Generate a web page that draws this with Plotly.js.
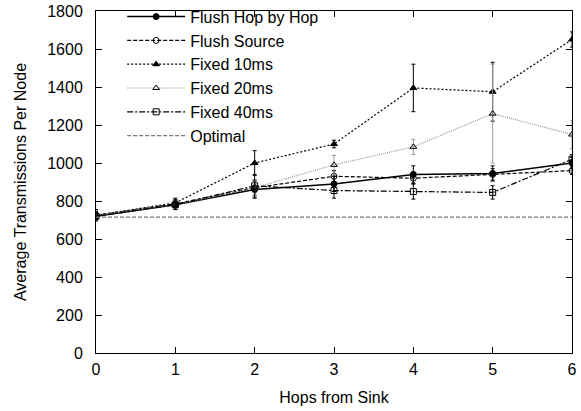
<!DOCTYPE html>
<html><head><meta charset="utf-8">
<script src="https://cdn.plot.ly/plotly-3.0.1.min.js"></script>
<style>body{margin:0;background:#fff}#c{width:581px;height:411px}</style>
</head><body><div id="c"></div>
<script>
const hops = [0, 1, 2, 3, 4, 5, 6];
const flushHop = [720, 780, 860, 890, 940, 945, 1000];
const flushHopErr = [20, 25, 45, 40, 45, 40, 30];
const flushSource = [725, 785, 870, 930, 920, 940, 960];
const flushSourceErr = [20, 20, 40, 30, 30, 30, 20];
const fixed10 = [725, 790, 1000, 1100, 1395, 1375, 1650];
const fixed10Err = [30, 25, 65, 20, 125, 155, 40];
const fixed20 = [725, 780, 870, 990, 1085, 1260, 1150];
const fixed20Err = [25, 20, 40, 50, 40, 260, 75];
const fixed40 = [720, 780, 880, 855, 850, 845, 1020];
const fixed40Err = [20, 25, 60, 40, 40, 35, 25];
const optimalY = 715;
const optimalX = [0, 6];

const FONT = 'Liberation Sans, Arial, Helvetica, sans-serif';
function tr(name, y, err, color, dash, symbol, mcolor, width) {
  return {
    x: hops, y: y, name: name, type: 'scatter', mode: 'lines+markers',
    line: {color: color, dash: dash, width: width || 1.2},
    marker: {symbol: symbol, size: 6, color: mcolor || color, line: {color: '#000', width: 1}},
    error_y: {type: 'data', array: err, visible: true, color: color, thickness: 1, width: 2}
  };
}
const data = [
  tr('Flush Hop by Hop', flushHop, flushHopErr, '#000', 'solid', 'circle', '#000', 1.5),
  tr('Flush Source', flushSource, flushSourceErr, '#000', '4px,2px', 'circle-open', '#000'),
  tr('Fixed 10ms', fixed10, fixed10Err, '#000', '2px,2px', 'triangle-up', '#000'),
  tr('Fixed 20ms', fixed20, fixed20Err, '#999', '1px,1px', 'triangle-up-open', '#000'),
  tr('Fixed 40ms', fixed40, fixed40Err, '#000', '6px,2px,2px,2px', 'square-open', '#000'),
  {x: optimalX, y: [optimalY, optimalY], name: 'Optimal', type: 'scatter', mode: 'lines',
   line: {color: '#777', dash: '4px,2px', width: 1.2}}
];
const axisCommon = {
  showgrid: false, zeroline: false, showline: true, linecolor: '#000', linewidth: 1,
  mirror: 'ticks', ticks: 'inside', ticklen: 6, tickcolor: '#000',
  tickfont: {family: FONT, size: 16, color: '#000'}
};
const layout = {
  width: 581, height: 411,
  margin: {l: 96, r: 9, t: 11, b: 58, autoexpand: false},
  paper_bgcolor: '#fff', plot_bgcolor: '#fff',
  showlegend: true,
  legend: {x: 0.055, y: 1.033, xanchor: 'left', yanchor: 'top', bgcolor: 'rgba(0,0,0,0)',
           font: {family: FONT, size: 16, color: '#000'},
           tracegroupgap: 0, itemwidth: 58},
  xaxis: Object.assign({}, axisCommon, {range: [0, 6], dtick: 1, ticklabelstandoff: 2,
    title: {text: 'Hops from Sink', font: {family: FONT, size: 16, color: '#000'}, standoff: 14}}),
  yaxis: Object.assign({}, axisCommon, {range: [0, 1800], dtick: 200, ticklabelstandoff: 9,
    title: {text: 'Average Transmissions Per Node', font: {family: FONT, size: 16, color: '#000'}, standoff: 16}})
};
Plotly.newPlot('c', data, layout, {displayModeBar: false, staticPlot: true});
</script>
</body></html>
